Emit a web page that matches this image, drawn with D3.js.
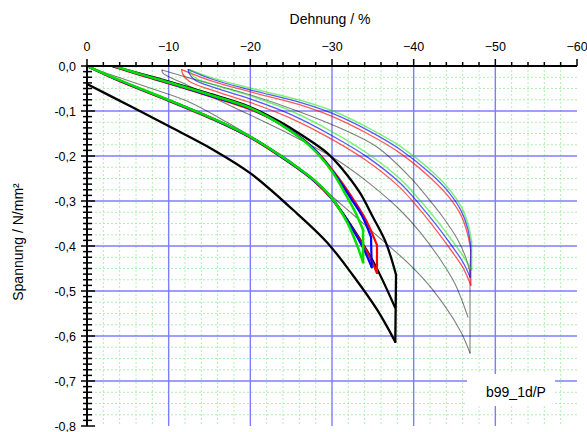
<!DOCTYPE html>
<html>
<head>
<meta charset="utf-8">
<script src="https://cdn.jsdelivr.net/npm/d3@7"></script>
<style>
  html, body { margin: 0; padding: 0; background: #fff; }
  svg { display: block; font-family: "Liberation Sans", Arial, sans-serif; }
</style>
</head>
<body>
<svg id="chart" width="587" height="432"></svg>
<script>
// Axis ticks
const strainTicks = [0, -10, -20, -30, -40, -50, -60];
const stressTicks = [0, -0.1, -0.2, -0.3, -0.4, -0.5, -0.6, -0.7, -0.8];
const stressTickLabels = ["0,0", "-0,1", "-0,2", "-0,3", "-0,4", "-0,5", "-0,6", "-0,7", "-0,8"];

// Series 1 (thick lines): loading, relaxation, unloading   [strain %, stress N/mm²]
const blackLoad1 = [[0,-0.04],[-5.27,-0.089],[-9.93,-0.133],[-15.44,-0.186],[-19.98,-0.238],[-25.25,-0.32],[-29.4,-0.392],[-32.6,-0.466],[-35.54,-0.542],[-37.75,-0.613]];
const blackUnload = [[-37.84,-0.464],[-36.61,-0.393],[-35.02,-0.336],[-33.43,-0.282],[-31.35,-0.231],[-29.39,-0.193],[-26.08,-0.151],[-23.63,-0.124],[-19.96,-0.091],[-15.06,-0.062],[-9.92,-0.034],[-6.49,-0.017],[-3.18,-0.001]];
const blackLoad2 = [[0,0],[-4.04,-0.033],[-9.93,-0.075],[-15.93,-0.121],[-19.98,-0.157],[-23.65,-0.199],[-27.7,-0.252],[-29.9,-0.292],[-32.69,-0.364],[-35.27,-0.442],[-37.71,-0.536]];

const redLoad = [[0,0],[-4.04,-0.034],[-9.93,-0.077],[-15.93,-0.123],[-19.98,-0.159],[-23.65,-0.201],[-27.7,-0.254],[-29.9,-0.294],[-32.45,-0.36],[-34.29,-0.413],[-35.51,-0.46]];
const redUnload = [[-35.51,-0.398],[-34.29,-0.347],[-33.06,-0.309],[-30.61,-0.244],[-27.8,-0.184],[-23.88,-0.131],[-19.96,-0.096],[-15.06,-0.067],[-9.92,-0.038],[-6.49,-0.02],[-3.43,-0.002]];
const blueLoad = [[0,0],[-4.04,-0.033],[-9.93,-0.076],[-15.93,-0.122],[-19.98,-0.158],[-23.65,-0.2],[-27.7,-0.253],[-29.9,-0.293],[-32.2,-0.353],[-33.8,-0.404],[-34.86,-0.447]];
const blueUnload = [[-34.78,-0.38],[-33.67,-0.333],[-32.45,-0.298],[-30.24,-0.238],[-27.55,-0.18],[-23.76,-0.13],[-19.96,-0.094],[-15.06,-0.066],[-9.92,-0.037],[-6.49,-0.019],[-3.43,-0.001]];
const greenLoad = [[0,0],[-4.04,-0.032],[-9.93,-0.075],[-15.93,-0.121],[-19.98,-0.157],[-23.65,-0.199],[-27.7,-0.252],[-29.9,-0.292],[-31.84,-0.347],[-33.06,-0.398],[-33.8,-0.436]];
const greenUnload = [[-33.8,-0.364],[-32.82,-0.324],[-31.84,-0.291],[-29.88,-0.231],[-27.31,-0.178],[-23.63,-0.129],[-19.96,-0.093],[-15.06,-0.064],[-9.92,-0.036],[-6.49,-0.018],[-3.55,-0.001]];

// Series 2 (thin lines)
const grayLoad1 = [[0,-0.002],[-3.67,-0.024],[-7.71,-0.049],[-12.24,-0.078],[-17.51,-0.129],[-21.18,-0.169],[-24.86,-0.211],[-31.35,-0.311],[-35.02,-0.369],[-39.55,-0.442],[-42.37,-0.498],[-45.67,-0.587],[-46.9,-0.638]];
const grayUnload = [[-46.9,-0.46],[-46.41,-0.427],[-45.43,-0.387],[-43.59,-0.336],[-41.63,-0.291],[-39.55,-0.247],[-35.51,-0.18],[-30.98,-0.138],[-26.08,-0.102],[-19.96,-0.064],[-12.61,-0.027],[-9.18,-0.009]];
const grayLoad2 = [[-9.18,-0.009],[-9.3,-0.016],[-12.0,-0.04],[-17.88,-0.091],[-24.0,-0.144],[-30.61,-0.209],[-34.65,-0.262],[-38.33,-0.32],[-40.78,-0.369],[-43.22,-0.429],[-45.06,-0.484],[-46.65,-0.558]];

const redThinLoad = [[-11.6,-0.008],[-11.7,-0.017],[-12.5,-0.034],[-15.2,-0.053],[-19.8,-0.08],[-24.7,-0.114],[-30,-0.163],[-34.2,-0.21],[-38.2,-0.268],[-40.7,-0.318],[-42.9,-0.368],[-44.6,-0.41],[-46,-0.447],[-47,-0.487]];
const redThinUnload = [[-47,-0.41],[-46.55,-0.37],[-45.8,-0.332],[-44.3,-0.291],[-42.2,-0.251],[-38.2,-0.192],[-34.2,-0.149],[-30,-0.112],[-26,-0.086],[-19.9,-0.057],[-15.2,-0.033],[-11.6,-0.008]];
const blueThinLoad = [[-12.4,-0.008],[-12.5,-0.016],[-13.22,-0.031],[-15.43,-0.047],[-19.96,-0.073],[-24.86,-0.107],[-30.12,-0.156],[-34.29,-0.202],[-38.33,-0.26],[-40.78,-0.309],[-42.98,-0.358],[-44.69,-0.4],[-46.04,-0.436],[-46.9,-0.469]];
const blueThinUnload = [[-47,-0.4],[-46.6,-0.36],[-45.85,-0.323],[-44.4,-0.283],[-42.3,-0.243],[-38.3,-0.185],[-34.29,-0.142],[-30.12,-0.106],[-26.08,-0.081],[-19.96,-0.053],[-15.43,-0.03],[-12.4,-0.008]];
const greenThinLoad = [[-12.6,-0.008],[-12.7,-0.015],[-13.4,-0.028],[-15.6,-0.042],[-20.1,-0.067],[-25,-0.1],[-30.3,-0.149],[-34.4,-0.195],[-38.4,-0.252],[-40.85,-0.3],[-43.05,-0.348],[-44.8,-0.39],[-46.15,-0.425],[-47.1,-0.453]];
const greenThinUnload = [[-47.1,-0.391],[-46.65,-0.351],[-45.92,-0.316],[-44.45,-0.276],[-42.37,-0.236],[-38.33,-0.178],[-34.29,-0.136],[-30.12,-0.1],[-26.08,-0.076],[-19.96,-0.049],[-15.43,-0.027],[-12.6,-0.008]];

const specimen = "b99_1d/P";

const svg = d3.select("#chart");
const x = d3.scaleLinear().domain([0, -60]).range([87, 577]);
const y = d3.scaleLinear().domain([0, -0.8]).range([66, 426]);

// Minor grid (light green, dotted)
const gMinor = svg.append("g").attr("stroke", "#b0f0b0").attr("stroke-width", 1).attr("stroke-dasharray", "2,2");
d3.range(-2, -60, -2).filter(v => v % 10 !== 0).forEach(v => {
  gMinor.append("line").attr("x1", x(v)).attr("x2", x(v)).attr("y1", y(0)).attr("y2", y(-0.8));
});
d3.range(1, 32).filter(i => i % 4 !== 0).map(i => -i * 0.025).forEach(v => {
  gMinor.append("line").attr("x1", x(0)).attr("x2", x(-60)).attr("y1", y(v)).attr("y2", y(v));
});

// Major grid (blue)
const gMajor = svg.append("g").attr("stroke", "#7070ff").attr("stroke-width", 1.4).attr("opacity", 0.9);
strainTicks.slice(1, -1).forEach(v => {
  gMajor.append("line").attr("x1", x(v)).attr("x2", x(v)).attr("y1", y(0)).attr("y2", y(-0.8));
});
stressTicks.slice(1, -1).forEach(v => {
  gMajor.append("line").attr("x1", x(0)).attr("x2", x(-60)).attr("y1", y(v)).attr("y2", y(v));
});

// Curves
const smooth = d3.line().x(d => x(d[0])).y(d => y(d[1])).curve(d3.curveCatmullRom.alpha(0.5));
const straight = d3.line().x(d => x(d[0])).y(d => y(d[1]));
const gCurves = svg.append("g").attr("fill", "none").attr("stroke-linejoin", "round").attr("stroke-linecap", "round");

function drawPath(pts, color, w, op) {
  gCurves.append("path").attr("d", smooth(pts)).attr("stroke", color).attr("stroke-width", w).attr("stroke-opacity", op);
}
function drawLoop(load, unload, color, w, op) {
  drawPath(load, color, w, op);
  const end = load[load.length - 1], top = unload[0];
  gCurves.append("path").attr("d", straight([end, top])).attr("stroke", color).attr("stroke-width", w).attr("stroke-opacity", op);
  drawPath(unload, color, w, op);
}

// thin series
drawLoop(grayLoad1, grayUnload, "#000", 1.1, 0.5);
drawPath(grayLoad2, "#000", 1.1, 0.5);
drawLoop(redThinLoad, redThinUnload, "#ff0000", 1.3, 0.65);
drawLoop(blueThinLoad, blueThinUnload, "#0000ff", 1.3, 0.65);
drawLoop(greenThinLoad, greenThinUnload, "#00e000", 1.5, 0.5);

// thick series
drawLoop(blackLoad1, blackUnload, "#000", 2.3, 1);
drawPath(blackLoad2, "#000", 2.2, 1);
drawLoop(redLoad, redUnload, "#ff0000", 2.2, 1);
drawLoop(blueLoad, blueUnload, "#0000ff", 2.2, 1);
drawLoop(greenLoad, greenUnload, "#00e000", 2.5, 1);

// Axes
const gAxis = svg.append("g").attr("stroke", "#000");
gAxis.append("line").attr("x1", x(0)).attr("x2", x(-60)).attr("y1", y(0)).attr("y2", y(0)).attr("stroke-width", 2);
gAxis.append("line").attr("x1", x(0)).attr("x2", x(0)).attr("y1", y(0)).attr("y2", y(-0.8)).attr("stroke-width", 2);
d3.range(0, -61, -2).forEach(v => {
  const major = v % 10 === 0;
  gAxis.append("line").attr("x1", x(v)).attr("x2", x(v))
    .attr("y1", y(0)).attr("y2", y(0) - (major ? 7 : 4)).attr("stroke-width", 1.5);
});
d3.range(0, 65).map(i => -i * 0.0125).forEach((v, i) => {
  const major = i % 8 === 0;
  gAxis.append("line").attr("x1", x(0) - (major ? 6 : 4)).attr("x2", x(0) + (major ? 8 : 5))
    .attr("y1", y(v)).attr("y2", y(v)).attr("stroke-width", 1.5);
});

// Tick labels
svg.append("g").selectAll("text").data(strainTicks).join("text")
  .attr("x", d => x(d)).attr("y", 51).attr("text-anchor", "middle")
  .attr("font-size", 12.5).attr("fill", "#000").text(d => d === 0 ? "0" : d3.format("d")(d));
svg.append("g").selectAll("text").data(stressTicks).join("text")
  .attr("x", 76).attr("y", d => y(d) + 4.5).attr("text-anchor", "end")
  .attr("font-size", 12.5).attr("fill", "#000").text((d, i) => stressTickLabels[i]);

// Axis titles
svg.append("text").attr("x", 330).attr("y", 24).attr("text-anchor", "middle")
  .attr("font-size", 14).text("Dehnung / %");
svg.append("text").attr("transform", "translate(23,242) rotate(-90)").attr("text-anchor", "middle")
  .attr("font-size", 14).text("Spannung / N/mm²");

// Specimen label
svg.append("rect").attr("x", 467).attr("y", 374).attr("width", 88).attr("height", 32).attr("fill", "#fff");
svg.append("text").attr("x", 516).attr("y", 397).attr("text-anchor", "middle")
  .attr("font-size", 14).text(specimen);
</script>
</body>
</html>
